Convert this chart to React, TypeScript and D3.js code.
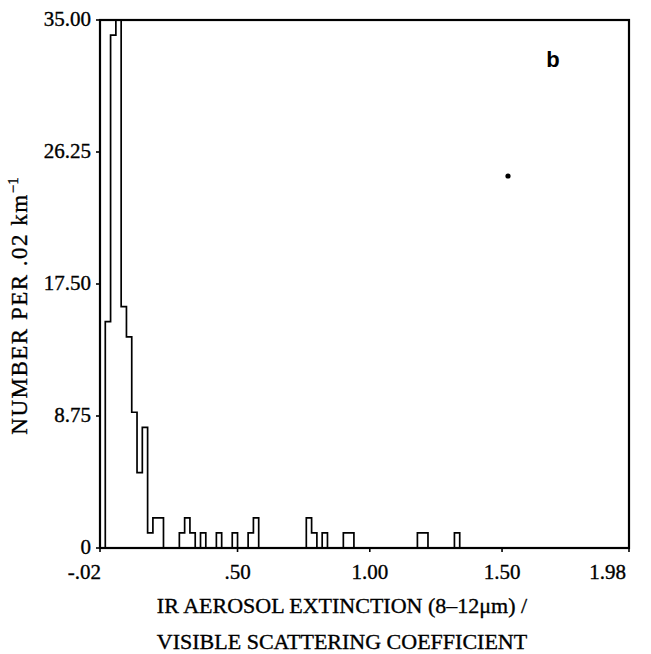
import React from "react";
import * as d3 from "d3";

// Histogram data (bin left edges, counts per .02 bin)
const binLefts = [0.0, 0.02, 0.04, 0.06, 0.08, 0.1, 0.12, 0.14, 0.16, 0.18, 0.2, 0.28, 0.3, 0.32, 0.36, 0.42, 0.48, 0.54, 0.56, 0.76, 0.78, 0.82, 0.9, 0.92, 1.18, 1.2, 1.32];
const binCounts = [15, 34, 35, 16, 14, 9, 5, 8, 1, 2, 2, 1, 2, 1, 1, 1, 1, 1, 2, 2, 1, 1, 1, 1, 1, 1, 1];
const binWidth = 0.02;

const xDomain = [-0.02, 1.98];
const yDomain = [0, 35];
const xTickValues = [-0.02, 0.5, 1.0, 1.5, 1.98];
const xTickLabels = ["-.02", ".50", "1.00", "1.50", "1.98"];
const yTickValues = [0, 8.75, 17.5, 26.25, 35];
const yTickLabels = ["0", "8.75", "17.50", "26.25", "35.00"];
const xTitleLines = ["IR AEROSOL EXTINCTION (8\u201312\u03bcm) /", "VISIBLE SCATTERING COEFFICIENT"];
const yTitle = "NUMBER PER .02 km";
const yTitleSup = "\u22121";
const panelLabel = "b";

export default function App() {
  const W = 651, H = 654;
  const L = 100, R = 629, T = 20, B = 548;
  const x = d3.scaleLinear().domain(xDomain).range([L, R]);
  const y = d3.scaleLinear().domain(yDomain).range([B, T]);
  const serif = "'Liberation Serif', 'Times New Roman', serif";

  const n = Math.round(binLefts[binLefts.length - 1] / binWidth) + 1;
  const pts: [number, number][] = [[0, 0]];
  for (let k = 0; k < n; k++) {
    const v = k * binWidth;
    const idx = binLefts.findIndex((b) => Math.abs(b - v) < 1e-9);
    pts.push([v, idx >= 0 ? binCounts[idx] : 0]);
  }
  pts.push([n * binWidth, 0]);
  const line = d3
    .line<[number, number]>()
    .x((d) => x(d[0]))
    .y((d) => y(Math.min(d[1], yDomain[1])))
    .curve(d3.curveStepAfter);

  const xAnchor = (i: number) => (i === 0 || i === xTickValues.length - 1 ? "end" : "middle");
  const xShift = (i: number) => (i === 0 ? 1 : i === xTickValues.length - 1 ? -3 : 0);

  return (
    <svg width={W} height={H} style={{ position: "absolute", left: 0, top: 0, background: "#fff" }}>
      <rect x={0} y={0} width={W} height={H} fill="#fff" />
      <path d={line(pts) || ""} fill="none" stroke="#000" strokeWidth={1.7} />
      <rect x={L} y={T} width={R - L} height={B - T} fill="none" stroke="#000" strokeWidth={2.2} />
      <g fill="#000" stroke="#000" strokeWidth={0.35}>
        {yTickValues.map((v, i) => (
          <g key={"y" + i}>
            <line x1={L - 4} x2={L} y1={y(v)} y2={y(v)} strokeWidth={1.6} />
            <text x={L - 9} y={y(v)} dy="0.3em" textAnchor="end" fontFamily={serif} fontSize={21}>
              {yTickLabels[i]}
            </text>
          </g>
        ))}
        {xTickValues.map((v, i) => (
          <g key={"x" + i}>
            <line x1={x(v)} x2={x(v)} y1={B} y2={B + 4} strokeWidth={1.6} />
            <text x={x(v) + xShift(i)} y={B + 31} textAnchor={xAnchor(i)} fontFamily={serif} fontSize={21}>
              {xTickLabels[i]}
            </text>
          </g>
        ))}
        {xTitleLines.map((t, i) => (
          <text key={"t" + i} x={342} y={613 + i * 36} textAnchor="middle" fontFamily={serif} fontSize={22}>
            {t}
          </text>
        ))}
        <text
          transform={`translate(27,${(T + B) / 2 + 22}) rotate(-90)`}
          textAnchor="middle"
          fontFamily={serif}
          fontSize={23}
          letterSpacing={1.5}
        >
          {yTitle}
          <tspan dy={-9} fontSize={15} letterSpacing={0}>{yTitleSup}</tspan>
        </text>
        <text x={553} y={67} textAnchor="middle" fontFamily="'Liberation Sans', Arial, sans-serif" fontSize={22} fontWeight="bold" strokeWidth={0}>
          {panelLabel}
        </text>
      </g>
      <circle cx={508} cy={176} r={2.6} fill="#000" />
    </svg>
  );
}
